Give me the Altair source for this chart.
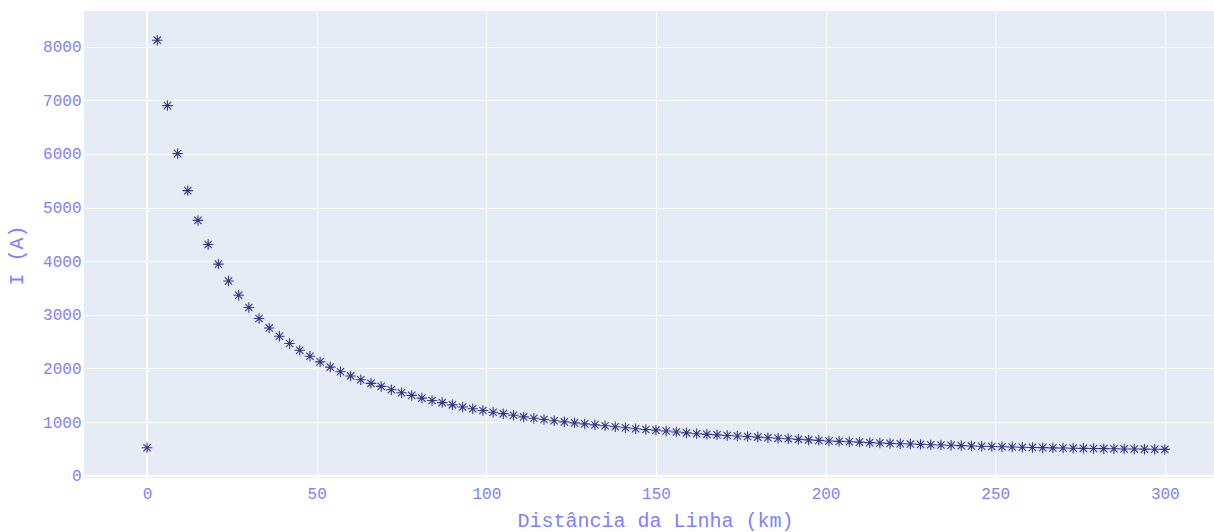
import altair as alt
import pandas as pd

# Fault current along the line, sampled every 3 km
distance_km = list(range(0, 301, 3))
current_a = [
    520, 8120, 6900, 6005, 5315, 4760, 4310, 3945, 3630, 3365,
    3135, 2930, 2755, 2600, 2465, 2340, 2228, 2122, 2025, 1938,
    1860, 1788, 1722, 1665, 1602, 1547, 1497, 1447, 1402, 1363,
    1321, 1280, 1247, 1215, 1184, 1157, 1128, 1096, 1072, 1048,
    1024, 1004, 985, 966, 948, 930, 912, 894, 876, 862,
    849, 833, 815, 798, 783, 771, 761, 750, 739, 731,
    720, 708, 698, 688, 678, 667, 659, 648, 640, 633,
    626, 616, 609, 602, 596, 590, 584, 578, 572, 567,
    561, 555, 550, 545, 540, 535, 531, 527, 523, 519,
    516, 513, 510, 507, 504, 502, 499, 497, 495, 492,
    490,
]
x_ticks = [0, 50, 100, 150, 200, 250, 300]
y_ticks = [0, 1000, 2000, 3000, 4000, 5000, 6000, 7000, 8000]

df = pd.DataFrame({"d": distance_km, "i": current_a})
zero = pd.DataFrame({"z": [0]})

FONT = "Liberation Mono"
TXT = "#7f7fff"
ASTERISK = "M0,-1L0,1M-1,0L1,0M-0.7,-0.7L0.7,0.7M-0.7,0.7L0.7,-0.7"

x_scale = alt.Scale(domain=[-18.6, 314.5], nice=False, zero=False)
y_scale = alt.Scale(domain=[-43, 8664], nice=False, zero=False)

x_axis = alt.Axis(
    values=x_ticks, format="d", title="Distância da Linha (km)", grid=True,
    gridColor="white", gridWidth=1, domain=False, ticks=False,
    labelFont=FONT, labelFontSize=16, labelColor=TXT, labelPadding=7,
    titleFont=FONT, titleFontSize=20, titleColor=TXT, titleFontWeight="normal",
    titleX=571, titleY=42, titleBaseline="middle", titleAlign="center",
)
y_axis = alt.Axis(
    values=y_ticks, format="d", title="I (A)", grid=True,
    gridColor="white", gridWidth=1, domain=False, ticks=False,
    labelFont=FONT, labelFontSize=16, labelColor=TXT, labelPadding=3,
    titleFont=FONT, titleFontSize=20, titleColor=TXT, titleFontWeight="normal",
    titleX=-68, titleY=244, titleBaseline="middle", titleAlign="center",
    titleAngle=270,
)

hzero = alt.Chart(zero).mark_rule(color="white", strokeWidth=2).encode(
    y=alt.Y("z:Q", scale=y_scale, axis=y_axis)
)
vzero = alt.Chart(zero).mark_rule(color="white", strokeWidth=2).encode(
    x=alt.X("z:Q", scale=x_scale, axis=x_axis)
)
points = alt.Chart(df).mark_point(
    shape=ASTERISK, size=110, filled=False, stroke="#191970",
    strokeWidth=1.1, opacity=0.85,
).encode(
    x=alt.X("d:Q", scale=x_scale, axis=x_axis),
    y=alt.Y("i:Q", scale=y_scale, axis=y_axis),
)

chart = (
    alt.layer(hzero, vzero, points)
    .properties(
        width=1130, height=467,
        autosize=alt.AutoSizeParams(type="none"),
        padding={"left": 84, "top": 11, "right": 0, "bottom": 54},
        background="white",
    )
    .configure_view(fill="#E5ECF6", stroke=None)
)

chart.save("out.html", embed_options={"renderer": "svg", "actions": False})
